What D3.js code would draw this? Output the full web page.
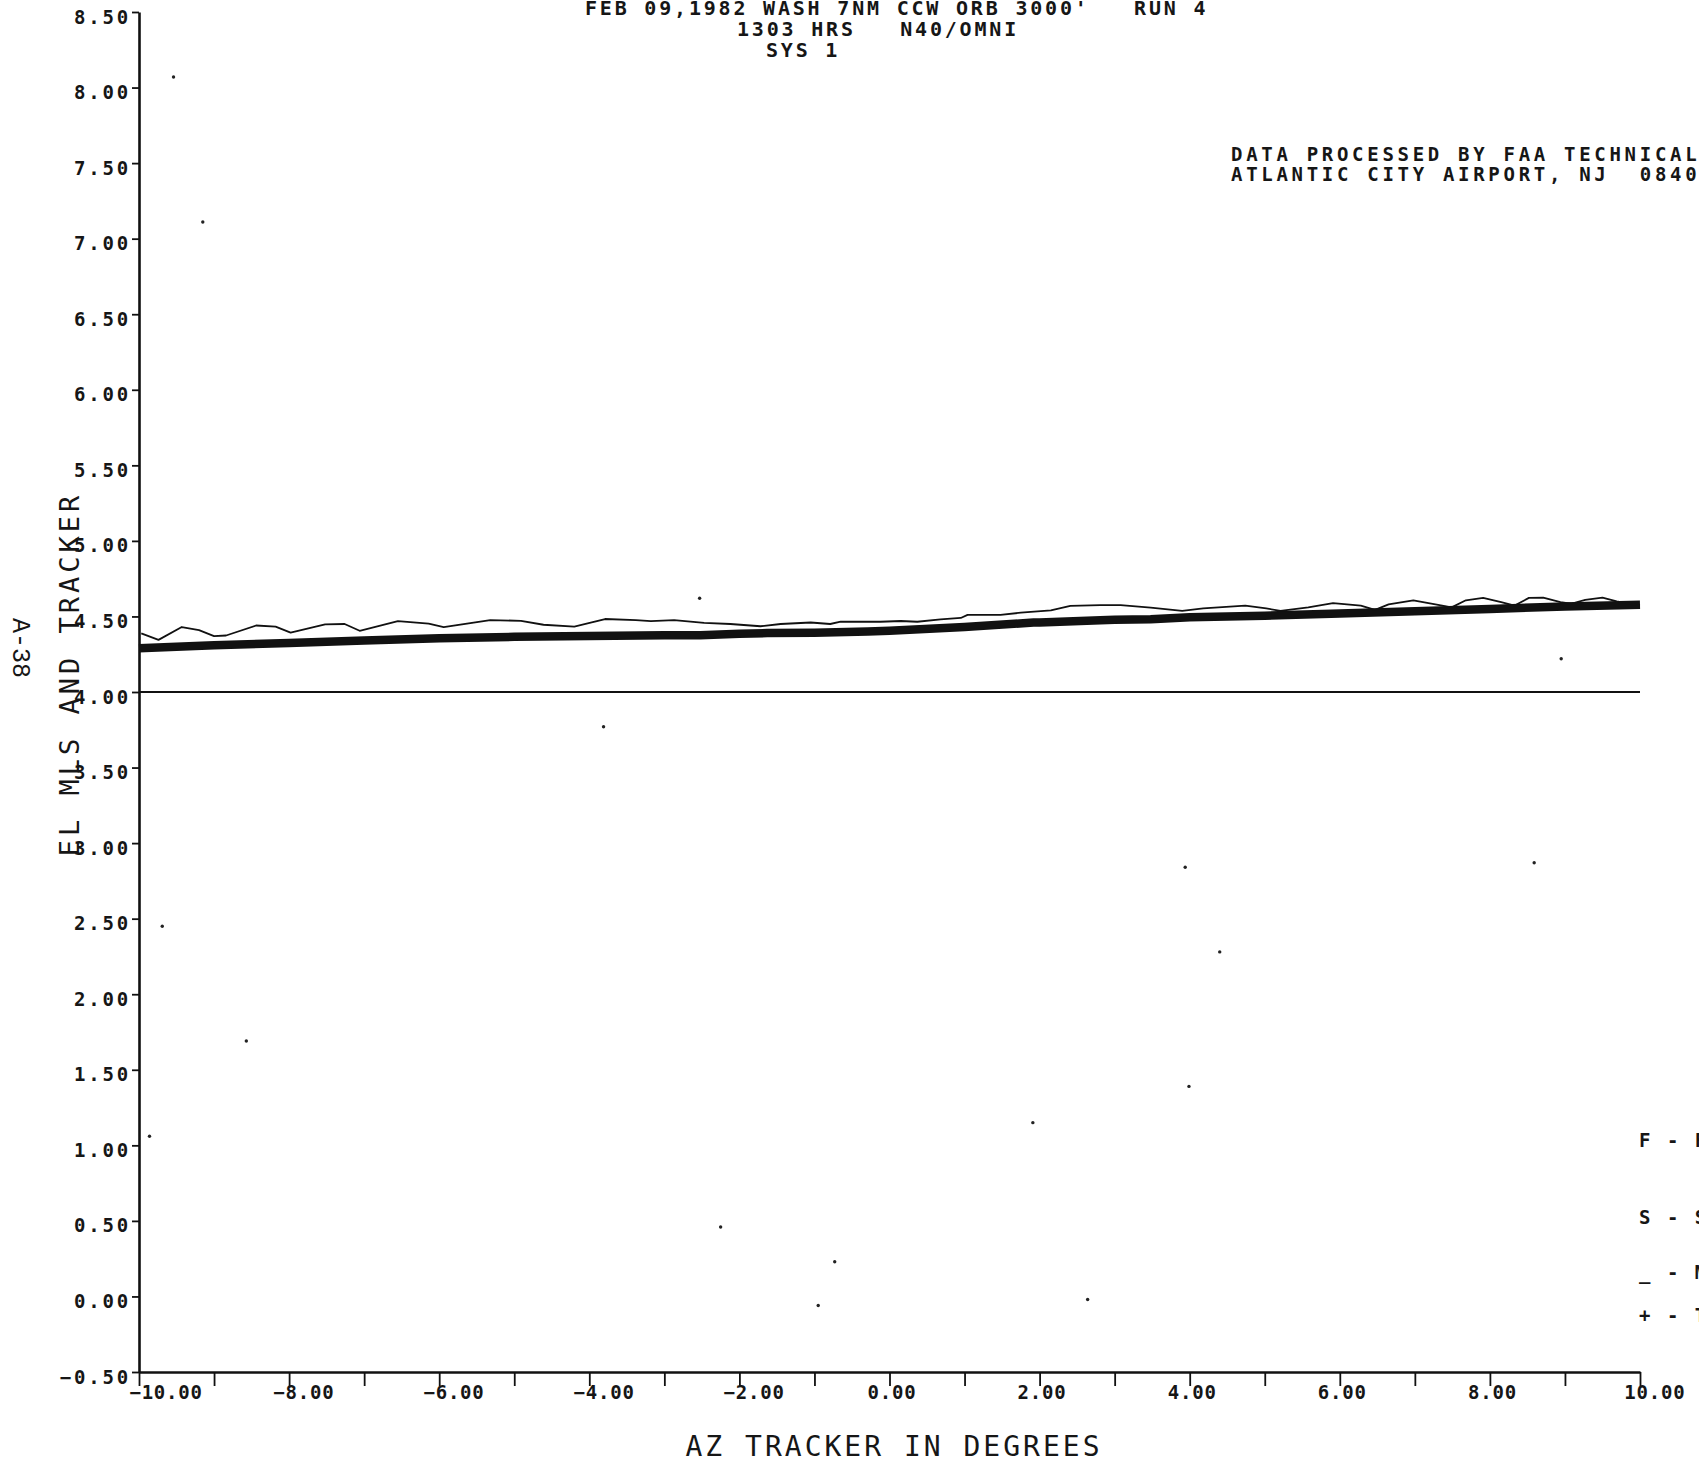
<!DOCTYPE html>
<html>
<head>
<meta charset="utf-8">
<script src="https://cdn.jsdelivr.net/npm/d3@7"></script>
<style>
  html, body { margin: 0; padding: 0; background: #fff; overflow: hidden; }
  svg { display: block; }
  text { font-family: "DejaVu Sans Mono", monospace; fill: #161616; white-space: pre; }
</style>
</head>
<body>
<svg id="chart" width="1699" height="1460"></svg>
<script>
// ---- MLS elevation trace (thin line), azimuth in degrees vs elevation in degrees
const mlsAz = [-9.97, -9.74, -9.43, -9.20, -9.00, -8.84, -8.44, -8.18, -7.98, -7.52,
  -7.26, -7.06, -6.55, -6.14, -5.94, -5.32, -4.91, -4.61, -4.20, -3.79,
  -3.38, -3.18, -2.87, -2.47, -2.12, -1.72, -1.45, -1.05, -0.79, -0.65,
  -0.12, 0.15, 0.37, 0.68, 0.95, 1.04, 1.48, 1.75, 2.15, 2.41,
  2.81, 3.08, 3.48, 3.90, 4.18, 4.74, 5.02, 5.21, 5.58, 5.91,
  6.28, 6.47, 6.65, 6.98, 7.31, 7.49, 7.68, 7.91, 8.15, 8.33,
  8.52, 8.71, 8.94, 9.08, 9.27, 9.50, 9.69, 10.00];
const mlsEl = [4.388, 4.345, 4.430, 4.410, 4.370, 4.374, 4.440, 4.433, 4.393, 4.448,
  4.450, 4.405, 4.469, 4.452, 4.429, 4.476, 4.471, 4.445, 4.433, 4.483,
  4.476, 4.469, 4.476, 4.457, 4.450, 4.435, 4.450, 4.460, 4.450, 4.465,
  4.465, 4.470, 4.465, 4.480, 4.490, 4.510, 4.510, 4.525, 4.540, 4.570,
  4.575, 4.575, 4.558, 4.537, 4.553, 4.572, 4.553, 4.537, 4.560, 4.588,
  4.572, 4.544, 4.580, 4.607, 4.577, 4.560, 4.607, 4.623, 4.595, 4.572,
  4.623, 4.625, 4.595, 4.584, 4.610, 4.625, 4.600, 4.572];

// ---- Tracker elevation (dense "+" marks, drawn as a heavy band)
const trackerAz = [-10, -9, -8, -7, -6, -5, -4, -3, -2.52, -2, -1.63, -1, -0.29, 0,
  1, 1.92, 2, 2.81, 3, 3.48, 4, 5, 6, 7, 8, 9, 10];
const trackerEl = [4.290, 4.310, 4.325, 4.340, 4.355, 4.365, 4.370, 4.375, 4.376, 4.385, 4.390, 4.392, 4.400, 4.405,
  4.430, 4.460, 4.460, 4.475, 4.478, 4.482, 4.495, 4.505, 4.520, 4.535, 4.550, 4.565, 4.577];

// ---- Reference elevation line
const refAz = [-10, 10];
const refEl = [4.00, 4.00];

// ---- Isolated stray plotted points
const strayAz = [-9.54, -9.15, 3.94, 4.40, -2.25, -0.95, -0.73, -2.53, 8.95, 8.59, -9.69, -9.86, 1.91, 2.64, -8.57, 3.99, -3.81];
const strayEl = [8.07, 7.11, 2.84, 2.28, 0.46, -0.06, 0.23, 4.62, 4.22, 2.87, 2.45, 1.06, 1.15, -0.02, 1.69, 1.39, 3.77];

// ---- Axes ticks
const xTickValues = [-10, -9, -8, -7, -6, -5, -4, -3, -2, -1, 0, 1, 2, 3, 4, 5, 6, 7, 8, 9, 10];
const xLabelValues = [-10, -8, -6, -4, -2, 0, 2, 4, 6, 8, 10];
const yTickValues = [-0.5, 0, 0.5, 1, 1.5, 2, 2.5, 3, 3.5, 4, 4.5, 5, 5.5, 6, 6.5, 7, 7.5, 8, 8.5];

// ---- Annotation text
const titleLines = ["FEB 09,1982 WASH 7NM CCW ORB 3000'   RUN 4", "1303 HRS   N40/OMNI", "SYS 1"];
const creditLines = ["DATA PROCESSED BY FAA TECHNICAL CENTER", "ATLANTIC CITY AIRPORT, NJ  08405"];
const legendLabels = ["F - FILTERED", "S - SMOOTHED", "_ - MLS", "+ - TRACKER"];
const xAxisTitle = "AZ TRACKER IN DEGREES";
const yAxisTitle = "EL MLS AND TRACKER";
const pageLabel = "A-38";

const svg = d3.select("#chart");
const fmt = d3.format(".2f");

const x = d3.scaleLinear().domain([-10, 10]).range([139, 1640]);
const y = d3.scaleLinear().domain([-0.5, 8.5]).range([1372, 12]);

// Y axis
const yAxis = svg.append("g")
  .attr("transform", `translate(${x(-10)},0)`)
  .call(d3.axisLeft(y).tickValues(yTickValues).tickFormat(fmt).tickSize(7).tickSizeOuter(0));
yAxis.select(".domain").attr("stroke", "#111").attr("stroke-width", 2.6);
yAxis.selectAll(".tick line").attr("stroke", "#111").attr("stroke-width", 1.8);
yAxis.selectAll(".tick text")
  .attr("x", -8).attr("dy", null).attr("y", 11)
  .style("font-size", "19px").style("font-weight", "bold").style("letter-spacing", "2.8px");

// X axis
const xAxis = svg.append("g")
  .attr("transform", `translate(0,${y(-0.5)})`)
  .call(d3.axisBottom(x).tickValues(xTickValues)
    .tickFormat(d => xLabelValues.includes(d) ? fmt(d) : "")
    .tickSize(14).tickSizeOuter(0));
xAxis.select(".domain").attr("stroke", "#111").attr("stroke-width", 2.4);
xAxis.selectAll(".tick line").attr("stroke", "#111").attr("stroke-width", 1.8);
xAxis.selectAll(".tick text")
  .attr("x", d => 2 + (fmt(d).length - 4) * 12.3)
  .attr("dy", null).attr("y", 27)
  .style("font-size", "19px").style("font-weight", "bold").style("letter-spacing", "0.8px");

// Reference line at 4.00
const line = d3.line().x(d => x(d[0])).y(d => y(d[1]));
svg.append("path")
  .attr("d", line(d3.zip(refAz, refEl)))
  .attr("fill", "none").attr("stroke", "#111").attr("stroke-width", 2);

// Tracker band
svg.append("path")
  .attr("d", line(d3.zip(trackerAz, trackerEl)))
  .attr("fill", "none").attr("stroke", "#111").attr("stroke-width", 8.5)
  .attr("stroke-linejoin", "round");

// MLS trace
svg.append("path")
  .attr("d", line(d3.zip(mlsAz, mlsEl)))
  .attr("fill", "none").attr("stroke", "#111").attr("stroke-width", 1.8)
  .attr("stroke-linejoin", "round");

// Stray points
svg.append("g").selectAll("circle")
  .data(d3.zip(strayAz, strayEl))
  .join("circle")
  .attr("cx", d => x(d[0])).attr("cy", d => y(d[1]))
  .attr("r", 1.7).attr("fill", "#222");

// Title block
const titleX = [585, 737, 766];
const titleY = [15, 36, 57];
svg.append("g").selectAll("text")
  .data(titleLines)
  .join("text")
  .attr("x", (d, i) => titleX[i]).attr("y", (d, i) => titleY[i])
  .style("font-size", "20px").style("font-weight", "bold").style("letter-spacing", "2.8px")
  .text(d => d);

// Credit block
svg.append("g").selectAll("text")
  .data(creditLines)
  .join("text")
  .attr("x", 1231).attr("y", (d, i) => 161 + i * 20)
  .style("font-size", "19px").style("font-weight", "bold").style("letter-spacing", "3.7px")
  .text(d => d);

// Legend
const legendY = [1147, 1224, 1279, 1322];
svg.append("g").selectAll("text")
  .data(legendLabels)
  .join("text")
  .attr("x", 1639).attr("y", (d, i) => legendY[i])
  .style("font-size", "19px").style("font-weight", "bold").style("letter-spacing", "2.5px")
  .text(d => d);

// Axis titles
svg.append("text")
  .attr("x", 894).attr("y", 1456)
  .attr("text-anchor", "middle")
  .style("font-size", "28px").style("letter-spacing", "3px")
  .text(xAxisTitle);

svg.append("text")
  .attr("transform", "translate(79,674) rotate(-90)")
  .attr("text-anchor", "middle")
  .style("font-size", "27px").style("letter-spacing", "4px")
  .text(yAxisTitle);

svg.append("text")
  .attr("transform", "translate(13,648) rotate(90)")
  .attr("text-anchor", "middle")
  .style("font-family", "'Liberation Mono', monospace")
  .style("font-size", "25px")
  .text(pageLabel);
</script>
</body>
</html>
